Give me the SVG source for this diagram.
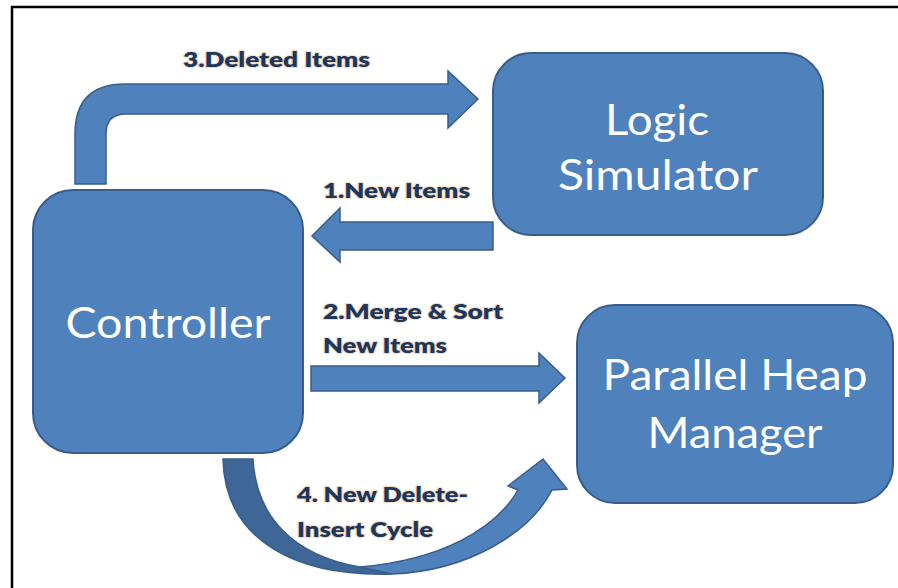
<svg xmlns="http://www.w3.org/2000/svg" width="898" height="588" viewBox="0 0 898 588">
<style>
.box{fill:#4f81bd;stroke:#385d8a;stroke-width:2}
.arr{fill:#4f81bd;stroke:#385d8a;stroke-width:1.5;stroke-linejoin:miter}
.dark{fill:#3e6797;stroke:#385d8a;stroke-width:1.5}
.nt{font-family:Lato,"Open Sans","Liberation Sans",sans-serif;font-size:42px;fill:#ffffff;text-anchor:middle}
.lb{font-family:Lato,"Open Sans","Liberation Sans",sans-serif;font-size:20px;font-weight:800;fill:#1c365c;stroke:#f3dcc2;stroke-width:2;paint-order:stroke;stroke-linejoin:round}
</style>
<rect width="898" height="588" fill="#ffffff"/>
<path d="M12,588 L12,7 L898,7" fill="none" stroke="#000000" stroke-width="2.5"/>
<g id="connectors">
<path class="arr" d="M75,184 L75,134 Q75,84 125,84 L448,84 L448,71 L478,99 L448,128 L448,114 L126,114 Q106,114 106,134 L106,184 Z"/>
<path class="arr" d="M493,222 L340,222 L340,208 L312,236 L340,262 L340,250 L493,250 Z"/>
<path class="arr" d="M311,366 L539,366 L539,353 L565,378 L539,403 L539,391 L311,391 Z"/>
<path class="dark" d="M223,459 L253,459 C256,518 295,556 360,567 L392,574 C300,577 225,543 223,459 Z"/>
<path class="arr" d="M392,574 C468,571 530,533 552,490 L567,489 L543,459 L508,486 L518,490 C495,530 440,560 360,567 Z"/>
<text class="lb" x="183" y="67" textLength="187" lengthAdjust="spacingAndGlyphs">3.Deleted Items</text>
<text class="lb" x="323" y="198" textLength="147" lengthAdjust="spacingAndGlyphs">1.New Items</text>
<text class="lb" x="323" y="319" textLength="180" lengthAdjust="spacingAndGlyphs">2.Merge &amp; Sort</text>
<text class="lb" x="323" y="353" textLength="124" lengthAdjust="spacingAndGlyphs">New Items</text>
<text class="lb" x="297" y="502" textLength="171" lengthAdjust="spacingAndGlyphs">4. New Delete-</text>
<text class="lb" x="297" y="537" textLength="136" lengthAdjust="spacingAndGlyphs">Insert Cycle</text>
</g>
<g id="controller">
<rect class="box" x="33" y="190" width="270" height="263" rx="40"/>
<text class="nt" x="168" y="338" textLength="205" lengthAdjust="spacingAndGlyphs">Controller</text>
</g>
<g id="logic-simulator">
<rect class="box" x="493" y="53" width="330" height="182" rx="38"/>
<text class="nt" x="657" y="135" textLength="104" lengthAdjust="spacingAndGlyphs">Logic</text>
<text class="nt" x="658" y="190" textLength="200" lengthAdjust="spacingAndGlyphs">Simulator</text>
</g>
<g id="parallel-heap-manager">
<rect class="box" x="577" y="305" width="316" height="198" rx="38"/>
<text class="nt" x="735" y="390" textLength="265" lengthAdjust="spacingAndGlyphs">Parallel Heap</text>
<text class="nt" x="735" y="448" textLength="175" lengthAdjust="spacingAndGlyphs">Manager</text>
</g>
</svg>
